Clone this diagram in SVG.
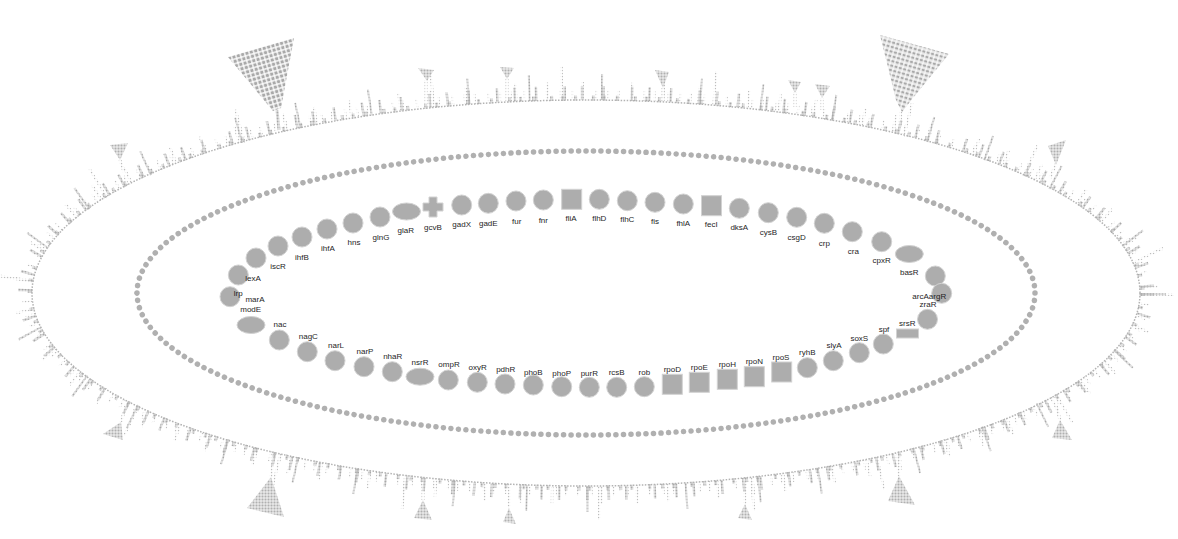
<svg xmlns="http://www.w3.org/2000/svg" width="1178" height="539" viewBox="0 0 1178 539">
<defs>
<pattern id="pd" width="3" height="3" patternUnits="userSpaceOnUse"><rect x="0.4" y="0.4" width="2.2" height="2.2" fill="#a9a9a9"/></pattern>
<pattern id="pl" width="3" height="3" patternUnits="userSpaceOnUse"><rect x="0.9" y="0.9" width="1.3" height="1.3" fill="#bdbdbd"/></pattern>
<pattern id="tl" width="4.5" height="4.5" patternUnits="userSpaceOnUse" patternTransform="rotate(-16)"><rect x="0.6" y="0.6" width="3.2" height="3.2" fill="#a9a9a9"/></pattern>
<pattern id="tr" width="4.5" height="4.5" patternUnits="userSpaceOnUse" patternTransform="rotate(16)"><rect x="0.6" y="0.6" width="3.2" height="2.2" fill="#a9a9a9"/><rect x="0.6" y="3" width="3.6" height="1" fill="#cfcfcf"/></pattern>
<pattern id="ts" width="3" height="3" patternUnits="userSpaceOnUse"><rect x="0.4" y="0.4" width="2.2" height="2.2" fill="#b0b0b0"/></pattern>
</defs>
<style>
.n{fill:#adadad;stroke:#d2d2d2;stroke-width:1}
.t{font-family:"Liberation Sans",Arial,sans-serif;font-size:8px;fill:#1e1e1e;text-anchor:middle}
.sp{fill:none}
</style>
<rect width="1178" height="539" fill="#ffffff"/>
<g id="connectors">
  <!-- outer spikes -->
  <ellipse class="sp" cx="586" cy="293" rx="559" ry="198" stroke="url(#pl)" stroke-width="10" stroke-dasharray="2 8 2 12 2 10"/>
  <ellipse class="sp" cx="586" cy="293" rx="561" ry="200" stroke="url(#pd)" stroke-width="14" stroke-dasharray="2.5 19 2.5 26 2.5 15"/>
  <ellipse class="sp" cx="586" cy="293" rx="563" ry="202" stroke="url(#pl)" stroke-width="18" stroke-dasharray="2.5 33 2.5 47 2.5 29"/>
  <ellipse class="sp" cx="586" cy="293" rx="567" ry="206" stroke="url(#pd)" stroke-width="26" stroke-dasharray="2 71 2 97 2 59"/>
  <ellipse class="sp" cx="586" cy="293" rx="571" ry="210" stroke="url(#pl)" stroke-width="34" stroke-dasharray="2.5 151 2.5 193 2.5 127"/>
  <ellipse class="sp" cx="586" cy="293" rx="556" ry="195" stroke="url(#pd)" stroke-width="5" stroke-dasharray="3 10 3 15 3 8"/>
  <!-- outer ring -->
  <ellipse class="sp" cx="586" cy="293" rx="554" ry="193" stroke="#b3b3b3" stroke-width="1.5" stroke-dasharray="1.5 1.5"/>
  <!-- middle ring -->
  <ellipse class="sp" cx="586" cy="293" rx="449" ry="142" stroke="#b0b0b0" stroke-width="5.5" stroke-linecap="round" pathLength="264" stroke-dasharray="0.01 0.99"/>
  <!-- big fans -->
  <polygon points="228,57 294,38 281,108 273,111" fill="url(#tl)"/>
  <line x1="277" y1="110" x2="279" y2="130" stroke="url(#pd)" stroke-width="3"/>
  <polygon points="880,35 949,54 913,98 902,112 896,100" fill="url(#tr)"/>
  <line x1="901" y1="111" x2="900" y2="127" stroke="url(#pl)" stroke-width="3"/>
  <!-- small fans -->
  <g fill="url(#ts)" stroke="none">
    <polygon points="418,68 434,70 427,81"/>
    <polygon points="500,67 514,68 507,79"/>
    <polygon points="655,70 669,72 663,88"/>
    <polygon points="788,80 801,82 795,93"/>
    <polygon points="815,84 830,86 822,98"/>
    <polygon points="1048,146 1066,140 1056,165"/>
    <polygon points="110,145 128,143 120,160"/>
    <polygon points="121,422 103,434 123,440"/>
    <polygon points="271,477 247,508 284,517"/>
    <polygon points="423,500 414,518 432,520"/>
    <polygon points="509,508 503,522 516,524"/>
    <polygon points="745,504 738,518 752,520"/>
    <polygon points="899,476 888,501 915,505"/>
    <polygon points="1060,420 1052,438 1072,440"/>
  </g>
  <g stroke="url(#pl)" stroke-width="3">
    <line x1="426" y1="80" x2="426" y2="108"/>
    <line x1="507" y1="78" x2="507" y2="102"/>
    <line x1="663" y1="88" x2="663" y2="101"/>
    <line x1="795" y1="92" x2="795" y2="107"/>
    <line x1="822" y1="98" x2="822" y2="110"/>
    <line x1="1056" y1="164" x2="1050" y2="178"/>
    <line x1="120" y1="160" x2="124" y2="172"/>
    <line x1="271" y1="477" x2="274" y2="452"/>
    <line x1="423" y1="500" x2="423" y2="476"/>
    <line x1="509" y1="508" x2="509" y2="484"/>
    <line x1="745" y1="504" x2="745" y2="482"/>
    <line x1="899" y1="476" x2="897" y2="455"/>
    <line x1="1060" y1="420" x2="1056" y2="405"/>
    <line x1="121" y1="422" x2="126" y2="405"/>
  </g>
</g>
<g id="marA"><circle class="n" cx="230" cy="296.7" r="10"/><text class="t" x="255" y="302.3">marA</text></g>
<g id="lrp"><circle class="n" cx="238.3" cy="275" r="10"/><text class="t" x="238.3" y="296.3">lrp</text></g>
<g id="lexA"><circle class="n" cx="256" cy="258" r="10"/><text class="t" x="253" y="281">lexA</text></g>
<g id="iscR"><circle class="n" cx="278" cy="246" r="10"/><text class="t" x="278" y="269">iscR</text></g>
<g id="ihfB"><circle class="n" cx="302" cy="237" r="10"/><text class="t" x="302" y="260">ihfB</text></g>
<g id="ihfA"><circle class="n" cx="327" cy="229" r="10"/><text class="t" x="328" y="251">ihfA</text></g>
<g id="hns"><circle class="n" cx="353" cy="223" r="10"/><text class="t" x="354" y="245">hns</text></g>
<g id="glnG"><circle class="n" cx="380" cy="217" r="10"/><text class="t" x="381" y="240">glnG</text></g>
<g id="glaR"><ellipse class="n" cx="406.5" cy="211.5" rx="14" ry="8.5"/><text class="t" x="405.7" y="233">glaR</text></g>
<g id="gcvB"><path class="n" d="M429,197 h8 v6 h6 v8 h-6 v6 h-8 v-6 h-6 v-8 h6 z"/><text class="t" x="433" y="229.7">gcvB</text></g>
<g id="gadX"><circle class="n" cx="461.7" cy="205" r="10"/><text class="t" x="461.7" y="227">gadX</text></g>
<g id="gadE"><circle class="n" cx="488.3" cy="203.3" r="10"/><text class="t" x="488.3" y="226.3">gadE</text></g>
<g id="fur"><circle class="n" cx="516" cy="201" r="10"/><text class="t" x="516.7" y="223.7">fur</text></g>
<g id="fnr"><circle class="n" cx="543.3" cy="200" r="10"/><text class="t" x="543.3" y="223">fnr</text></g>
<g id="fliA"><rect class="n" x="561.7" y="189.3" width="20" height="20"/><text class="t" x="571" y="220.7">fliA</text></g>
<g id="flhD"><circle class="n" cx="599.3" cy="199.3" r="10"/><text class="t" x="599.3" y="221.3">flhD</text></g>
<g id="flhC"><circle class="n" cx="627.3" cy="200.7" r="10"/><text class="t" x="627.3" y="222.3">flhC</text></g>
<g id="fis"><circle class="n" cx="655" cy="202.3" r="10"/><text class="t" x="655" y="223.7">fis</text></g>
<g id="fhlA"><circle class="n" cx="683.3" cy="204" r="10"/><text class="t" x="683.3" y="225.7">fhlA</text></g>
<g id="fecI"><rect class="n" x="701.5" y="195.7" width="20" height="20"/><text class="t" x="711.3" y="226.7">fecI</text></g>
<g id="dksA"><circle class="n" cx="739.3" cy="208.3" r="10"/><text class="t" x="739.3" y="229.7">dksA</text></g>
<g id="cysB"><circle class="n" cx="768.3" cy="212.7" r="10"/><text class="t" x="768.3" y="234.7">cysB</text></g>
<g id="csgD"><circle class="n" cx="796.7" cy="217.3" r="10"/><text class="t" x="796.7" y="239.7">csgD</text></g>
<g id="crp"><circle class="n" cx="824.3" cy="223.3" r="10"/><text class="t" x="824.3" y="246.3">crp</text></g>
<g id="cra"><circle class="n" cx="852.3" cy="231.7" r="10"/><text class="t" x="853.3" y="254">cra</text></g>
<g id="cpxR"><circle class="n" cx="881.7" cy="241.7" r="10"/><text class="t" x="881.7" y="263">cpxR</text></g>
<g id="basR"><ellipse class="n" cx="909.3" cy="254" rx="14" ry="8.5"/><text class="t" x="909.3" y="274.7">basR</text></g>
<g id="arcA"><circle class="n" cx="935.3" cy="276" r="10"/><text class="t" x="920.5" y="299">arcA</text></g>
<g id="argR"><circle class="n" cx="941.7" cy="293.3" r="10"/><text class="t" x="937.5" y="299">argR</text></g>
<g id="zraR"><circle class="n" cx="927.5" cy="319.3" r="10"/><text class="t" x="928" y="307">zraR</text></g>
<g id="srsR"><rect class="n" x="896.5" y="329" width="22" height="9"/><text class="t" x="907.3" y="325.7">srsR</text></g>
<g id="spf"><circle class="n" cx="883.3" cy="344" r="10"/><text class="t" x="884" y="332">spf</text></g>
<g id="soxS"><circle class="n" cx="859.3" cy="352.7" r="10"/><text class="t" x="859.3" y="340.7">soxS</text></g>
<g id="slyA"><circle class="n" cx="833.3" cy="360.7" r="10"/><text class="t" x="834" y="348">slyA</text></g>
<g id="ryhB"><circle class="n" cx="807.3" cy="367.7" r="10"/><text class="t" x="807.3" y="355.3">ryhB</text></g>
<g id="rpoS"><rect class="n" x="771.7" y="362" width="20" height="20"/><text class="t" x="781" y="360.2">rpoS</text></g>
<g id="rpoN"><rect class="n" x="744.3" y="366.7" width="20" height="20"/><text class="t" x="754.3" y="364">rpoN</text></g>
<g id="rpoH"><rect class="n" x="717.3" y="369.3" width="20" height="20"/><text class="t" x="727.3" y="367">rpoH</text></g>
<g id="rpoE"><rect class="n" x="689.3" y="372.3" width="20" height="20"/><text class="t" x="699.3" y="369.7">rpoE</text></g>
<g id="rpoD"><rect class="n" x="662.3" y="374.3" width="20" height="20"/><text class="t" x="672.3" y="372">rpoD</text></g>
<g id="rob"><circle class="n" cx="644.3" cy="386.7" r="10"/><text class="t" x="644.3" y="374.7">rob</text></g>
<g id="rcsB"><circle class="n" cx="616.7" cy="387.3" r="10"/><text class="t" x="616.7" y="375.3">rcsB</text></g>
<g id="purR"><circle class="n" cx="589.3" cy="387.3" r="10"/><text class="t" x="589.3" y="375.7">purR</text></g>
<g id="phoP"><circle class="n" cx="561.7" cy="386.7" r="10"/><text class="t" x="561.7" y="375.7">phoP</text></g>
<g id="phoB"><circle class="n" cx="533.3" cy="385" r="10"/><text class="t" x="533.3" y="374.7">phoB</text></g>
<g id="pdhR"><circle class="n" cx="505" cy="384" r="10"/><text class="t" x="505.7" y="372.3">pdhR</text></g>
<g id="oxyR"><circle class="n" cx="477.3" cy="382.3" r="10"/><text class="t" x="477.7" y="369.7">oxyR</text></g>
<g id="ompR"><circle class="n" cx="448.3" cy="380" r="10"/><text class="t" x="449" y="367.3">ompR</text></g>
<g id="nsrR"><ellipse class="n" cx="420" cy="376.7" rx="14" ry="8.5"/><text class="t" x="420" y="364.7">nsrR</text></g>
<g id="nhaR"><circle class="n" cx="392.3" cy="371.7" r="10"/><text class="t" x="392.7" y="359">nhaR</text></g>
<g id="narP"><circle class="n" cx="364" cy="366.7" r="10"/><text class="t" x="365" y="353.7">narP</text></g>
<g id="narL"><circle class="n" cx="335" cy="360.7" r="10"/><text class="t" x="336" y="348">narL</text></g>
<g id="nagC"><circle class="n" cx="307.3" cy="351.7" r="10"/><text class="t" x="308.3" y="339">nagC</text></g>
<g id="nac"><circle class="n" cx="279.3" cy="340" r="10"/><text class="t" x="280" y="327.3">nac</text></g>
<g id="modE"><ellipse class="n" cx="251" cy="325" rx="14" ry="8.5"/><text class="t" x="250.7" y="312.3">modE</text></g>
</svg>
